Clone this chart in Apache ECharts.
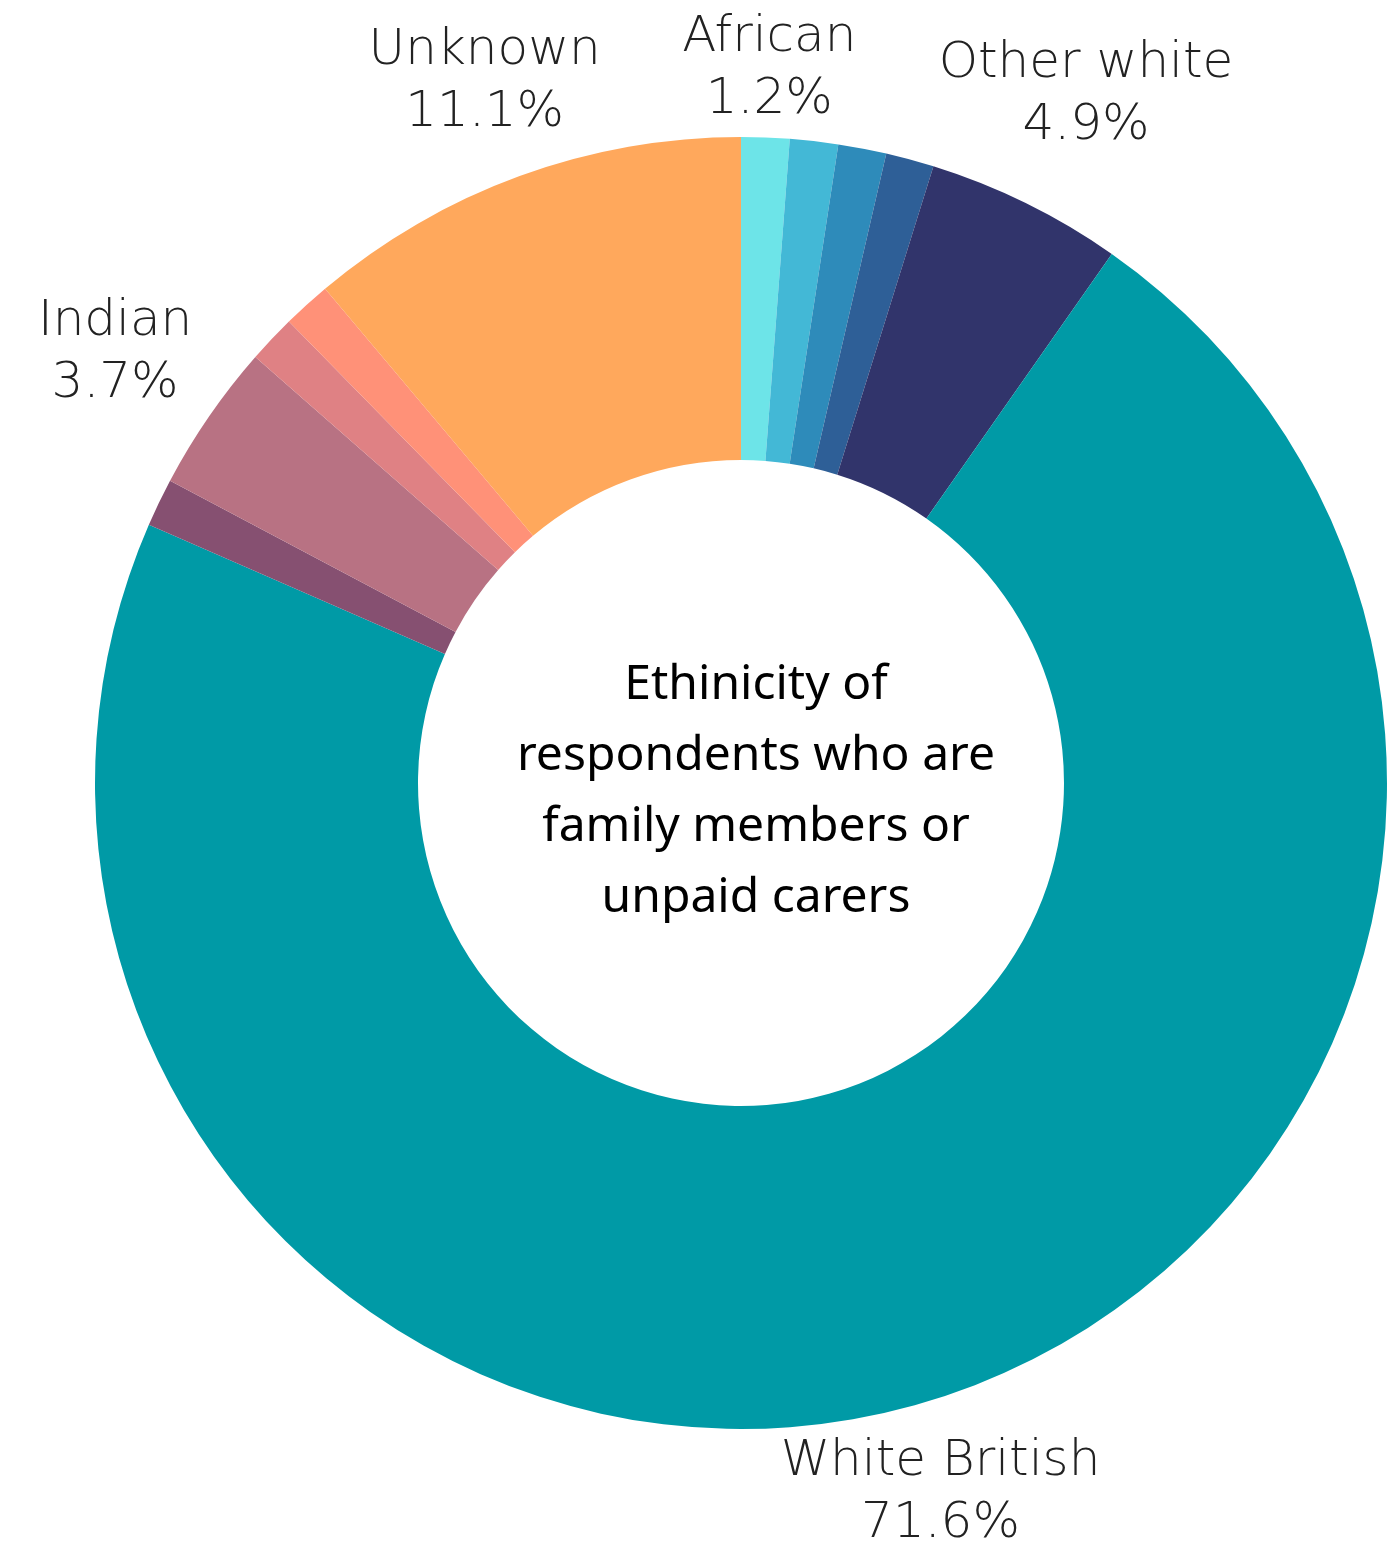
<!DOCTYPE html>
<html>
<head>
<meta charset="utf-8">
<title>Ethnicity of respondents</title>
<script src="https://cdn.jsdelivr.net/npm/echarts@6/dist/echarts.min.js"></script>
<style>
  html, body { margin: 0; padding: 0; background: #ffffff; }
  #chart { width: 1391px; height: 1556px; }
</style>
</head>
<body>
<div id="chart"></div>
<script>
// Ethnic groups, clockwise from twelve o'clock
const categories = [
  'African', 'Caribbean', 'Other Black', 'Mixed', 'Other white',
  'White British', 'Other Asian', 'Indian', 'Pakistani', 'Other', 'Unknown'
];
// Share of respondents (%)
const shares = [1.2, 1.2, 1.2, 1.2, 4.9, 71.6, 1.2, 3.7, 1.2, 1.2, 11.1];
// Groups that carry a label around the ring
const labelled = ['African', 'Other white', 'White British', 'Indian', 'Unknown'];
const sliceColors = [
  '#6de4e8', '#43b8d6', '#2e8bba', '#2e5f97', '#31346b',
  '#009aa6', '#865071', '#b87283', '#df8184', '#ff9178', '#ffa85c'
];
const centreTitle = 'Ethinicity of\nrespondents who are\nfamily members or\nunpaid carers';

// Small nudges so each label sits clear of the ring
const labelOffsets = {
  'African': [0, 33],
  'Other white': [15, -17],
  'White British': [-3, -10],
  'Indian': [-10, -6],
  'Unknown': [0, 2]
};

const CENTER = [741, 783];

const ringData = categories.map((name, i) => ({
  name: name,
  value: shares[i],
  itemStyle: { color: sliceColors[i] }
}));

const labelData = categories.map((name, i) => ({
  name: name,
  value: shares[i],
  label: {
    show: labelled.indexOf(name) >= 0,
    offset: labelOffsets[name] || [0, 0]
  }
}));

const chart = echarts.init(document.getElementById('chart'), null, { renderer: 'canvas' });

chart.setOption({
  animation: false,
  backgroundColor: '#ffffff',
  graphic: [{
    type: 'text',
    x: 756,
    y: CENTER[1] + 9,
    style: {
      text: centreTitle,
      fill: '#000000',
      font: '48px "Noto Sans"',
      lineHeight: 71,
      align: 'center',
      verticalAlign: 'middle'
    },
    z: 10
  }],
  series: [
    {
      type: 'pie',
      center: CENTER,
      radius: [323, 646],
      startAngle: 90,
      clockwise: true,
      avoidLabelOverlap: false,
      silent: true,
      label: { show: false },
      labelLine: { show: false },
      itemStyle: { borderWidth: 0 },
      data: ringData
    },
    {
      // invisible ring that only carries the outer labels
      type: 'pie',
      center: CENTER,
      radius: [720, 770],
      startAngle: 90,
      clockwise: true,
      silent: true,
      avoidLabelOverlap: false,
      itemStyle: { color: 'rgba(0,0,0,0)', borderWidth: 0 },
      labelLine: { show: false },
      label: {
        position: 'inside',
        formatter: p => p.name + '\n' + p.value.toFixed(1) + '%',
        color: '#222222',
        fontFamily: '"DejaVu Sans"',
        fontWeight: 200,
        fontSize: 50,
        lineHeight: 62,
        align: 'center'
      },
      data: labelData
    }
  ]
});
</script>
</body>
</html>
